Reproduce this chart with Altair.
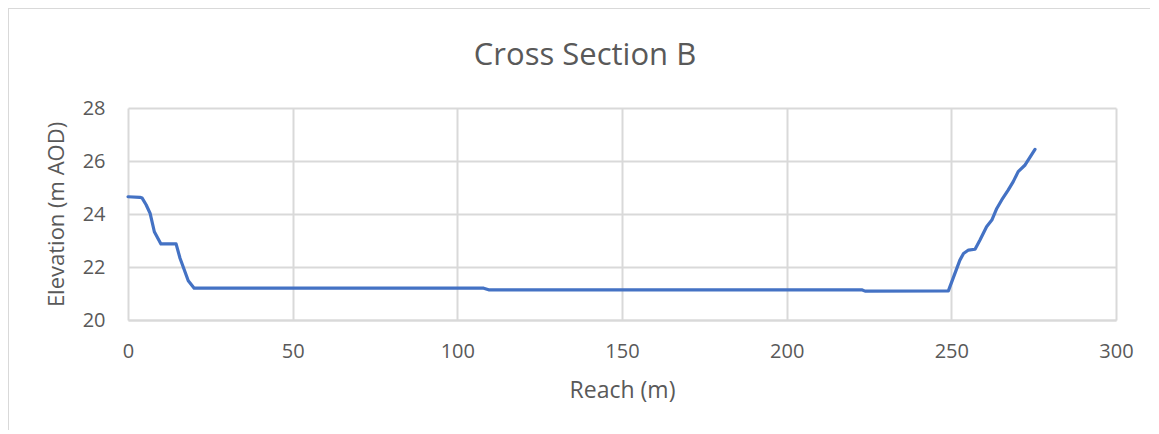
import altair as alt
import pandas as pd

reach = [0, 3.6, 4.3, 5.5, 6.7, 8.0, 10.0, 14.6, 15.8, 18.3, 20.1, 108.0, 109.5,
         222.8, 223.8, 249.1, 252.6, 253.7, 255.2, 257.2, 258.7, 260.7, 262.3,
         263.8, 265.3, 267.3, 268.8, 270.3, 272.4, 275.4]
elevation = [24.65, 24.63, 24.6, 24.35, 24.03, 23.33, 22.87, 22.87, 22.33, 21.48,
             21.2, 21.2, 21.14, 21.14, 21.09, 21.1, 22.26, 22.51, 22.64, 22.67,
             23.02, 23.52, 23.77, 24.21, 24.53, 24.91, 25.22, 25.6, 25.85, 26.44]

x_ticks = [0, 50, 100, 150, 200, 250, 300]
y_ticks = [20, 22, 24, 26, 28]

df = pd.DataFrame({"reach": reach, "elevation": elevation, "order": range(len(reach))})

FONT = "Open Sans"
GREY = "#595959"
GRID = "#d9d9d9"

line = alt.Chart(df).mark_line(color="#4472C4", strokeWidth=3.2, strokeJoin="round", strokeCap="round").encode(
    x=alt.X("reach:Q",
            scale=alt.Scale(domain=[0, 300], nice=False, zero=False),
            axis=alt.Axis(values=x_ticks, title="Reach (m)", grid=True, tickSize=0, ticks=False,
                          labelFlush=False,
                          labelPadding=21, titlePadding=18, labelFontSize=20, titleFontSize=23,
                          labelColor=GREY, titleColor=GREY, titleFontWeight="normal",
                          domainColor=GRID, domainWidth=2, gridColor=GRID, gridWidth=2,
                          labelFont=FONT, titleFont=FONT)),
    y=alt.Y("elevation:Q",
            scale=alt.Scale(domain=[20, 28], nice=False, zero=False),
            axis=alt.Axis(values=y_ticks, title="Elevation (m AOD)", grid=True, tickSize=0, ticks=False,
                          labelFlush=False,
                          labelPadding=23, titlePadding=14, labelFontSize=20, titleFontSize=22,
                          labelColor=GREY, titleColor=GREY, titleFontWeight="normal",
                          domain=False, gridColor=GRID, gridWidth=2,
                          labelFont=FONT, titleFont=FONT)),
    order="order:Q",
)

frame = pd.DataFrame({"a": [0]})
border_top = alt.Chart(frame).mark_rule(stroke=GRID, strokeWidth=2).encode(
    x=alt.value(-120), x2=alt.value(1200), y=alt.value(-100))
border_left = alt.Chart(frame).mark_rule(stroke=GRID, strokeWidth=2).encode(
    x=alt.value(-120), y=alt.value(-100), y2=alt.value(400))

title = alt.Chart(pd.DataFrame({"t": ["Cross Section B"]})).mark_text(
    font=FONT, fontSize=31, color=GREY, align="center", baseline="alphabetic"
).encode(text="t:N", x=alt.value(457), y=alt.value(-43))

chart = alt.layer(border_top, border_left, title, line).properties(
    width=988, height=212,
    autosize=alt.AutoSizeParams(type="none"),
    padding={"left": 120, "top": 100, "right": 34, "bottom": 110},
).configure_view(stroke=None)

chart.save("out.html", embed_options={"renderer": "svg", "actions": False})
